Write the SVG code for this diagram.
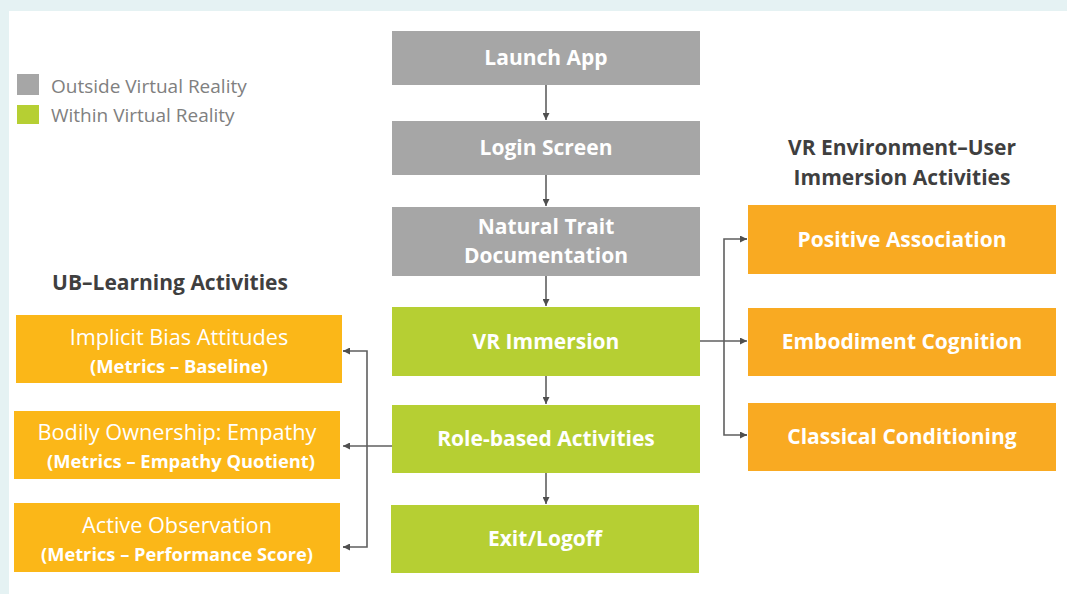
<svg xmlns="http://www.w3.org/2000/svg" width="1067" height="594" viewBox="0 0 1067 594">
  <style>
    .gray { fill: #a6a6a6; }
    .green { fill: #b6cf33; }
    .orangeL { fill: #fbb718; }
    .orangeR { fill: #f9aa22; }
    .lbl { font-family: "Open Sans", "Liberation Sans", sans-serif; font-weight: 700; font-size: 21px; fill: #ffffff; text-anchor: middle; }
    .lbl1 { font-family: "Open Sans", "Liberation Sans", sans-serif; font-weight: 400; font-size: 21.7px; fill: #ffffff; text-anchor: middle; }
    .lbl2 { font-family: "Open Sans", "Liberation Sans", sans-serif; font-weight: 700; font-size: 17px; fill: #ffffff; text-anchor: middle; }
    .head { font-family: "Open Sans", "Liberation Sans", sans-serif; font-weight: 700; font-size: 21px; fill: #3f3f3f; text-anchor: middle; }
    .legend { font-family: "Open Sans", "Liberation Sans", sans-serif; font-size: 19px; fill: #808080; }
    .conn { stroke: #5f5f5f; stroke-width: 1.6; fill: none; }
  </style>
  <defs>
    <marker id="arr" viewBox="0 0 10 10" refX="10" refY="5" markerWidth="7" markerHeight="7" markerUnits="userSpaceOnUse" orient="auto">
      <path d="M0,0 L10,5 L0,10 z" fill="#4f4f4f"/>
    </marker>
  </defs>

  <!-- page frame -->
  <rect x="0" y="0" width="1067" height="594" fill="#e5f2f3"/>
  <rect x="9" y="11" width="1058" height="583" fill="#ffffff"/>

  <!-- legend -->
  <g id="legend">
    <rect x="17" y="74" width="22" height="21" class="gray"/>
    <rect x="17" y="105" width="22" height="19" class="green"/>
    <text x="51" y="93" class="legend">Outside Virtual Reality</text>
    <text x="51" y="122" class="legend">Within Virtual Reality</text>
  </g>

  <!-- section headings -->
  <g id="heading-ub">
    <text x="170" y="290" class="head">UB–Learning Activities</text>
  </g>
  <g id="heading-vr">
    <text x="902" y="155" class="head">VR Environment–User</text>
    <text x="902" y="185" class="head">Immersion Activities</text>
  </g>

  <!-- connectors -->
  <g id="connectors">
    <line x1="546" y1="85" x2="546" y2="120" class="conn" marker-end="url(#arr)"/>
    <line x1="546" y1="175" x2="546" y2="206" class="conn" marker-end="url(#arr)"/>
    <line x1="546" y1="276" x2="546" y2="306" class="conn" marker-end="url(#arr)"/>
    <line x1="546" y1="376" x2="546" y2="404" class="conn" marker-end="url(#arr)"/>
    <line x1="546" y1="473" x2="546" y2="504" class="conn" marker-end="url(#arr)"/>
    <!-- VR Immersion to immersion activities -->
    <line x1="700" y1="341" x2="747" y2="341" class="conn" marker-end="url(#arr)"/>
    <polyline points="747,239 724,239 724,435 747,435" class="conn"/>
    <line x1="740" y1="239" x2="747" y2="239" class="conn" marker-end="url(#arr)"/>
    <line x1="740" y1="435" x2="747" y2="435" class="conn" marker-end="url(#arr)"/>
    <!-- Role-based Activities to learning activities -->
    <line x1="392" y1="446" x2="343" y2="446" class="conn" marker-end="url(#arr)"/>
    <polyline points="343,351 367,351 367,547 343,547" class="conn"/>
    <line x1="350" y1="351" x2="343" y2="351" class="conn" marker-end="url(#arr)"/>
    <line x1="350" y1="547" x2="343" y2="547" class="conn" marker-end="url(#arr)"/>
  </g>

  <!-- main flow -->
  <g id="launch-app">
    <rect x="392" y="31" width="308" height="54" class="gray"/>
    <text x="546" y="65" class="lbl">Launch App</text>
  </g>
  <g id="login-screen">
    <rect x="392" y="121" width="308" height="54" class="gray"/>
    <text x="546" y="155" class="lbl">Login Screen</text>
  </g>
  <g id="natural-trait">
    <rect x="392" y="207" width="308" height="69" class="gray"/>
    <text x="546" y="234" class="lbl">Natural Trait</text>
    <text x="546" y="263" class="lbl">Documentation</text>
  </g>
  <g id="vr-immersion">
    <rect x="392" y="307" width="308" height="69" class="green"/>
    <text x="546" y="349" class="lbl">VR Immersion</text>
  </g>
  <g id="role-based">
    <rect x="392" y="405" width="308" height="68" class="green"/>
    <text x="546" y="446" class="lbl">Role-based Activities</text>
  </g>
  <g id="exit-logoff">
    <rect x="391" y="505" width="308" height="68" class="green"/>
    <text x="545" y="546" class="lbl">Exit/Logoff</text>
  </g>

  <!-- learning activities -->
  <g id="implicit-bias">
    <rect x="16" y="315" width="326" height="68" class="orangeL"/>
    <text x="179" y="345" class="lbl1">Implicit Bias Attitudes</text>
    <text x="179" y="373" class="lbl2" textLength="178" lengthAdjust="spacingAndGlyphs">(Metrics – Baseline)</text>
  </g>
  <g id="bodily-ownership">
    <rect x="14" y="411" width="326" height="68" class="orangeL"/>
    <text x="177" y="440" class="lbl1">Bodily Ownership: Empathy</text>
    <text x="181" y="468" class="lbl2" textLength="268" lengthAdjust="spacingAndGlyphs">(Metrics – Empathy Quotient)</text>
  </g>
  <g id="active-observation">
    <rect x="14" y="503" width="326" height="69" class="orangeL"/>
    <text x="177" y="533" class="lbl1">Active Observation</text>
    <text x="177" y="561" class="lbl2" textLength="272" lengthAdjust="spacingAndGlyphs">(Metrics – Performance Score)</text>
  </g>

  <!-- immersion activities -->
  <g id="positive-association">
    <rect x="748" y="205" width="308" height="69" class="orangeR"/>
    <text x="902" y="247" class="lbl">Positive Association</text>
  </g>
  <g id="embodiment-cognition">
    <rect x="748" y="308" width="308" height="68" class="orangeR"/>
    <text x="902" y="349" class="lbl">Embodiment Cognition</text>
  </g>
  <g id="classical-conditioning">
    <rect x="748" y="403" width="308" height="68" class="orangeR"/>
    <text x="902" y="444" class="lbl">Classical Conditioning</text>
  </g>
</svg>
